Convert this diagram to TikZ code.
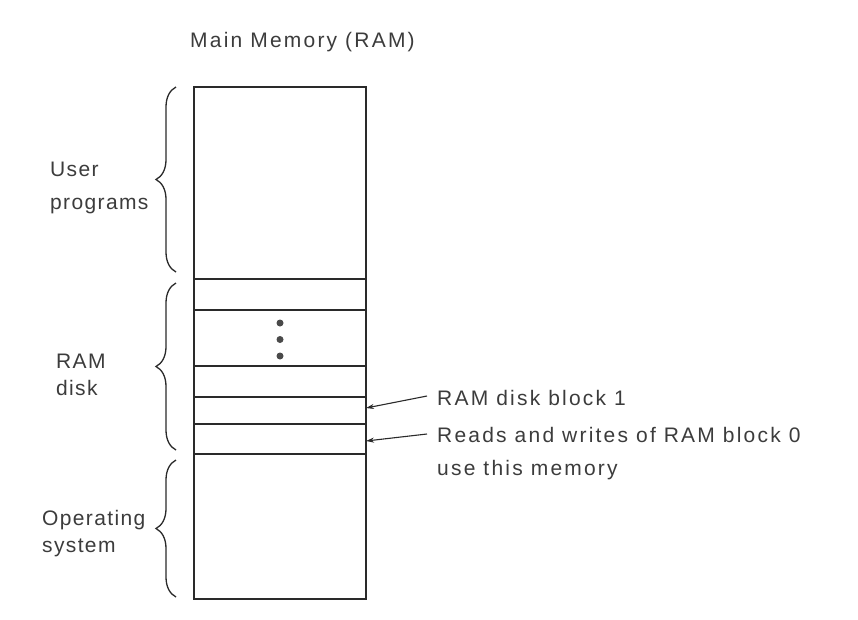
\documentclass[tikz,border=0pt]{standalone}
\usepackage{fontspec}
\setmainfont{Liberation Sans}[LetterSpace=10.5]
\usetikzlibrary{decorations.pathreplacing,arrows.meta}
\definecolor{ink}{HTML}{2A2A2A}
\definecolor{txt}{HTML}{3C3C3C}
\begin{document}
\begin{tikzpicture}[x=1pt,y=-1pt,
  blk/.style={draw=ink, line width=1.7pt, minimum width=172pt, inner sep=0pt, outer sep=0pt},
  lbl/.style={text=txt, font=\fontsize{21}{27}\selectfont, inner sep=0pt, align=left},
  side/.style={lbl, font=\fontsize{21}{27}\selectfont\addfontfeature{LetterSpace=6.5}},
  brc/.style={draw=ink, line width=1.3pt, decorate, decoration={brace, amplitude=20pt}},
  arr/.style={draw=ink, line width=1.1pt, -{Stealth[length=8pt,width=5pt]}},
  dot/.style={fill=ink!85}
]
\useasboundingbox (0,0) rectangle (858,619);
\fill[white] (0,0) rectangle (858,619);

% memory blocks
\node[blk, minimum height=192pt] (user) at (280,183) {};
\node[blk, minimum height=31pt]  (b4)   at (280,294.5) {};
\node[blk, minimum height=56pt]  (mid)  at (280,338) {};
\node[blk, minimum height=31pt]  (b2)   at (280,381.5) {};
\node[blk, minimum height=27pt]  (b1)   at (280,410.5) {};
\node[blk, minimum height=30pt]  (b0)   at (280,439) {};
\node[blk, minimum height=145pt] (os)   at (280,526.5) {};

% vertical dots
\fill[dot] (280,323) circle (3.5pt);
\fill[dot] (280,339.5) circle (3.5pt);
\fill[dot] (280,356) circle (3.5pt);

% title
\node[lbl, anchor=base west] (title) at (190,47) {Main Memory (RAM)};

% braces
\draw[brc] (176,272) -- (176,87);
\draw[brc] (176,450) -- (176,283);
\draw[brc] (176,597) -- (176,460);

% left labels (base = last line)
\node[side, anchor=base west] (luser) at (50,209) {User\\[6pt]programs};
\node[side, anchor=base west] (lram)  at (56,395) {RAM\\disk};
\node[side, anchor=base west] (los)   at (42,552) {Operating\\system};

% right labels
\node[lbl, anchor=base west] (t1) at (437,405) {RAM disk block 1};
\node[lbl, anchor=base west] (t0) at (437,475) {Reads and writes of RAM block 0\\[6pt]use this memory};

\coordinate (s1) at (427,396);
\coordinate (s0) at (427,434);
\draw[arr] (s1) -- (b1.east |- 0,408);
\draw[arr] (s0) -- (b0.east |- 0,441);
\end{tikzpicture}
\end{document}
